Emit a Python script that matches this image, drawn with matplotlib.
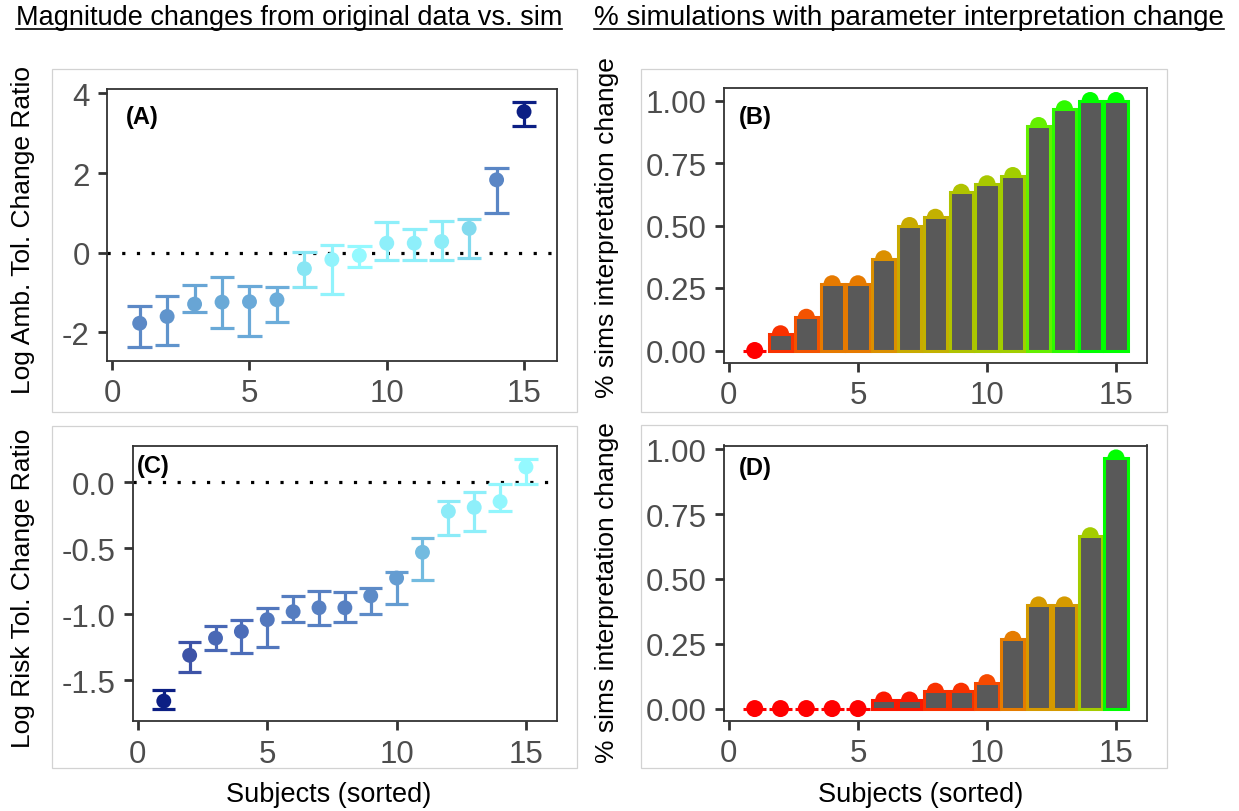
import numpy as np
import matplotlib.pyplot as plt
from matplotlib.colors import LinearSegmentedColormap, Normalize
from matplotlib.patches import Rectangle
from matplotlib.lines import Line2D

plt.rcParams['font.family'] = ['Liberation Sans', 'DejaVu Sans']
plt.rcParams['axes.unicode_minus'] = False

subjects = np.arange(1, 16)

# (A) log ambiguity tolerance change ratio, sorted subjects
amb_mid = [-1.77, -1.60, -1.29, -1.24, -1.23, -1.18, -0.40, -0.17, -0.07, 0.24, 0.24, 0.28, 0.61, 1.83, 3.54]
amb_lo = [-2.37, -2.32, -1.50, -1.88, -2.08, -1.74, -0.87, -1.03, -0.36, -0.17, -0.17, -0.17, -0.12, 1.01, 3.19]
amb_hi = [-1.33, -1.09, -0.81, -0.61, -0.84, -0.85, 0.03, 0.20, 0.17, 0.76, 0.60, 0.79, 0.85, 2.12, 3.79]

# (C) log risk tolerance change ratio
risk_mid = [-1.657, -1.31, -1.18, -1.13, -1.04, -0.98, -0.95, -0.95, -0.86, -0.725, -0.53, -0.22, -0.19, -0.146, 0.116]
risk_lo = [-1.72, -1.44, -1.27, -1.29, -1.25, -1.06, -1.08, -1.06, -1.00, -0.925, -0.74, -0.40, -0.37, -0.22, -0.013]
risk_hi = [-1.575, -1.21, -1.09, -1.04, -0.95, -0.86, -0.82, -0.83, -0.80, -0.68, -0.42, -0.14, -0.07, -0.015, 0.176]

# (B), (D) share of simulations with interpretation change
amb_pct = [0, 0.067, 0.133, 0.267, 0.267, 0.367, 0.5, 0.533, 0.633, 0.667, 0.7, 0.9, 0.967, 1.0, 1.0]
risk_pct = [0, 0, 0, 0, 0, 0.033, 0.033, 0.067, 0.067, 0.1, 0.267, 0.4, 0.4, 0.667, 0.967]

xticks = [0, 5, 10, 15]

blues = LinearSegmentedColormap.from_list('blues', [
    (0, '#94f9ff'), (0.17, '#80d6ec'), (0.33, '#6aaad8'), (0.5, '#5b87c5'),
    (0.68, '#4a6ab7'), (0.78, '#3d52a6'), (1, '#0c1f84')])
redgreen = LinearSegmentedColormap.from_list('redgreen', [
    (0, '#ff0000'), (0.1, '#f64900'), (0.25, '#e87600'), (0.4, '#d79800'),
    (0.5, '#c9ab00'), (0.6, '#b8bd00'), (0.75, '#97d600'), (0.9, '#65ef00'),
    (0.95, '#49f700'), (1, '#00ff00')])

W, H = 1239, 812
fig = plt.figure(figsize=(W / 100, H / 100), dpi=100)


def rect(l, t, r, b):
    return [l / W, 1 - b / H, (r - l) / W, (b - t) / H]


def frame_box(l, t, r, b):
    fig.patches.append(Rectangle((l / W, 1 - b / H), (r - l) / W, (b - t) / H,
                                 transform=fig.transFigure, fill=False,
                                 edgecolor='#d2d2d2', lw=0.9))


def style(ax, ylim, yticks, fmt):
    ax.set_xlim(-0.19, 16.2)
    ax.set_ylim(ylim)
    ax.set_xticks(xticks)
    ax.set_yticks(yticks)
    ax.set_yticklabels([fmt.format(v) for v in yticks])
    ax.tick_params(length=6.5, width=2, color='#333333', labelsize=22.5,
                   labelcolor='#4d4d4d', pad=6)
    for s in ax.spines.values():
        s.set_color('#333333')
        s.set_linewidth(1.3)


def dots(ax, mid, lo, hi):
    mid, lo, hi = np.asarray(mid), np.asarray(lo), np.asarray(hi)
    mag = np.abs(mid)
    cols = blues(Normalize(mag.min(), mag.max())(mag))
    ax.axhline(0, color='black', lw=2.3, ls=(0, (1, 3.6)), zorder=1)
    ax.vlines(subjects, lo, hi, colors=cols, lw=2.3, zorder=2)
    ax.hlines(lo, subjects - 0.45, subjects + 0.45, colors=cols, lw=2.3, zorder=2)
    ax.hlines(hi, subjects - 0.45, subjects + 0.45, colors=cols, lw=2.3, zorder=2)
    ax.scatter(subjects, mid, s=115, c=cols, zorder=3, linewidths=0)


def bars(ax, pct):
    pct = np.asarray(pct)
    cols = redgreen(Normalize(pct.min(), pct.max())(pct))
    ax.scatter(subjects, pct, s=150, c=cols, zorder=2, linewidths=0)
    ax.bar(subjects, pct, width=0.9, color='#595959', edgecolor=cols,
           linewidth=2.2, zorder=3)


# outer panel boxes
frame_box(51.7, 70, 577, 413)
frame_box(51.7, 427, 577, 769)
frame_box(640.5, 70, 1167, 413)
frame_box(640.5, 426, 1167, 769)

axA = fig.add_axes(rect(107, 90, 557, 361.7))
dots(axA, amb_mid, amb_lo, amb_hi)
style(axA, (-2.71, 4.11), [-2, 0, 2, 4], '{:.0f}')
axA.text(0.079, 0.90, '(A)', transform=axA.transAxes, fontsize=17,
         fontweight='bold', ha='center', va='center')

axC = fig.add_axes(rect(133, 447, 557, 722.3))
dots(axC, risk_mid, risk_lo, risk_hi)
style(axC, (-1.81, 0.275), [-1.5, -1.0, -0.5, 0.0], '{:.1f}')
axC.text(0.047, 0.93, '(C)', transform=axC.transAxes, fontsize=17,
         fontweight='bold', ha='center', va='center')

axB = fig.add_axes(rect(724, 89, 1147, 364))
bars(axB, amb_pct)
style(axB, (-0.05, 1.05), [0, 0.25, 0.5, 0.75, 1.0], '{:.2f}')
axB.text(0.073, 0.898, '(B)', transform=axB.transAxes, fontsize=17,
         fontweight='bold', ha='center', va='center')

axD = fig.add_axes(rect(724, 446.5, 1147, 722))
bars(axD, risk_pct)
style(axD, (-0.048, 1.015), [0, 0.25, 0.5, 0.75, 1.0], '{:.2f}')
axD.text(0.073, 0.92, '(D)', transform=axD.transAxes, fontsize=17,
         fontweight='bold', ha='center', va='center')

# axis titles
lab = dict(fontsize=19, color='black', ha='center', va='center')
fig.text(23 / W, 1 - 230 / H, 'Log Amb. Tol. Change Ratio', rotation=90, **lab)
fig.text(23 / W, 1 - 588 / H, 'Log Risk Tol. Change Ratio', rotation=90, **lab)
fig.text(607 / W, 1 - 228 / H, '% sims interpretation change', rotation=90, **lab)
fig.text(607 / W, 1 - 593 / H, '% sims interpretation change', rotation=90, **lab)
fig.text(329 / W, 1 - 795 / H, 'Subjects (sorted)', fontsize=19.5,
         color='black', ha='center', va='center')
fig.text(921 / W, 1 - 795 / H, 'Subjects (sorted)', fontsize=19.5,
         color='black', ha='center', va='center')

# underlined column titles
titles = [fig.text(289 / W, 1 - 25 / H, 'Magnitude changes from original data vs. sim',
                   fontsize=19.5, ha='center', va='baseline'),
          fig.text(909 / W, 1 - 25 / H, '% simulations with parameter interpretation change',
                   fontsize=20, ha='center', va='baseline')]
fig.canvas.draw()
renderer = fig.canvas.get_renderer()
for t in titles:
    bb = t.get_window_extent(renderer)
    fig.lines.append(Line2D([bb.x0 / W, bb.x1 / W], [1 - 29.5 / H] * 2,
                            transform=fig.transFigure, color='black', lw=1.2))

fig.savefig('out.png', dpi=100)
